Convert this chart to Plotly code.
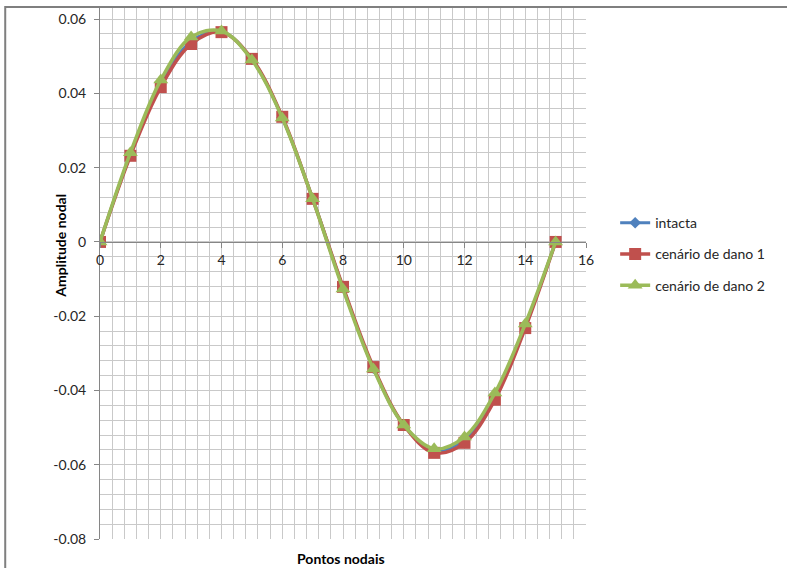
import plotly.graph_objects as go

# Nodal points and modal amplitudes for each scenario
pontos = list(range(16))
intacta = [0.0, 0.0235, 0.0425, 0.0540, 0.0567, 0.0492, 0.0335, 0.0117,
           -0.0123, -0.0340, -0.0493, -0.0562, -0.0533, -0.0416, -0.0227, 0.0]
dano1 = [0.0, 0.0232, 0.0417, 0.0533, 0.0565, 0.0493, 0.0337, 0.0116,
         -0.0121, -0.0337, -0.0493, -0.0568, -0.0541, -0.0425, -0.0232, 0.0]
dano2 = [0.0, 0.0240, 0.0436, 0.0552, 0.0568, 0.0490, 0.0334, 0.0116,
         -0.0127, -0.0342, -0.0493, -0.0557, -0.0525, -0.0407, -0.0221, 0.0]

x_ticks = list(range(0, 17, 2))
y_ticks = [0.06, 0.04, 0.02, 0.0, -0.02, -0.04, -0.06, -0.08]
y_tick_text = ["0.06", "0.04", "0.02", "0", "-0.02", "-0.04", "-0.06", "-0.08"]

Y_MIN, Y_MAX = -0.08, 0.063
FONT = "Lato, Open Sans, sans-serif"

fig = go.Figure()
series = [
    ("intacta", intacta, "#4F81BD", "diamond", 9, 3),
    ("cenário de dano 1", dano1, "#C0504D", "square", 12, 3.5),
    ("cenário de dano 2", dano2, "#9BBB59", "triangle-up", 13, 3.5),
]
for name, vals, color, symbol, msize, lw in series:
    fig.add_trace(go.Scatter(
        x=pontos, y=vals, name=name, legendgroup=name,
        mode="lines+markers",
        line=dict(color=color, width=lw, shape="spline", smoothing=1.0),
        marker=dict(color=color, symbol=symbol, size=msize),
    ))

grid_color = "#c9c9c9"
fig.update_xaxes(
    range=[0, 16], tickvals=x_ticks, ticktext=[str(v) for v in x_ticks],
    anchor="free", position=(0 - Y_MIN) / (Y_MAX - Y_MIN),
    showline=True, linecolor="#868686", linewidth=1,
    ticks="outside", ticklen=5, tickcolor="#868686",
    showgrid=True, gridcolor=grid_color, gridwidth=1,
    minor=dict(dtick=0.4, tick0=0, showgrid=True, gridcolor=grid_color, gridwidth=1),
    zeroline=False,
    tickfont=dict(family=FONT, size=14, color="#262626"),
)
fig.update_yaxes(
    range=[Y_MIN, Y_MAX], tickvals=y_ticks, ticktext=y_tick_text,
    showline=True, linecolor="#868686", linewidth=1,
    ticks="outside", ticklen=5, tickcolor="#868686", ticklabelstandoff=5,
    showgrid=True, gridcolor=grid_color, gridwidth=1,
    minor=dict(dtick=0.004, tick0=-0.08, showgrid=True, gridcolor=grid_color, gridwidth=1),
    zeroline=False,
    tickfont=dict(family=FONT, size=14, color="#262626"),
)

fig.update_layout(
    width=787, height=568,
    margin=dict(l=100, r=201, t=8, b=29),
    plot_bgcolor="white", paper_bgcolor="white",
    font=dict(family=FONT, size=14, color="#262626"),
    showlegend=True,
    legend=dict(x=1.06, y=0.625, xanchor="left", yanchor="top",
                font=dict(family=FONT, size=14, color="#262626"),
                tracegroupgap=10, bgcolor="rgba(0,0,0,0)"),
    annotations=[
        dict(text="<b>Amplitude nodal</b>", xref="paper", yref="y",
             x=(61 - 100) / 486, y=-0.001, xanchor="center", yanchor="middle",
             textangle=-90, showarrow=False,
             font=dict(family=FONT, size=14, color="#000000")),
        dict(text="<b>Pontos nodais</b>", xref="paper", yref="paper",
             x=(341 - 100) / 486, y=-0.036, yanchor="middle", showarrow=False,
             font=dict(family=FONT, size=14, color="#000000")),
    ],
    shapes=[
        dict(type="rect", xref="paper", yref="paper",
             x0=-0.195, x1=1.6, y0=-0.2, y1=1.002,
             line=dict(color="#7f7f7f", width=2), fillcolor="rgba(0,0,0,0)",
             layer="below"),
    ],
)

fig.write_html("out.html")
